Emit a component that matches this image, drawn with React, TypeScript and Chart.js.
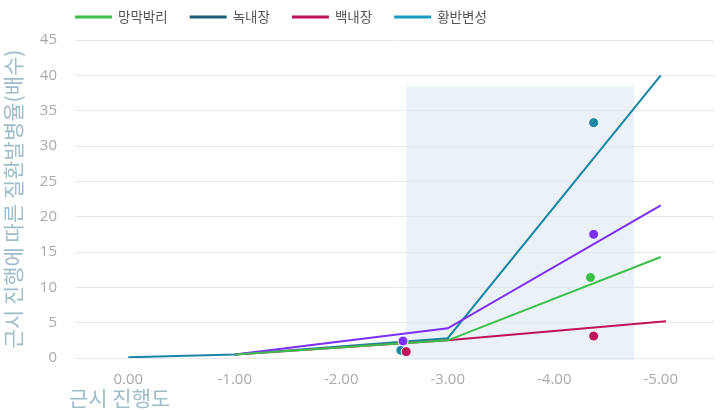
import { useEffect, useRef } from 'react';
import { Chart, registerables } from 'chart.js';

Chart.register(...registerables);

const seriesNames = ['망막박리', '녹내장', '백내장', '황반변성'];
const lineColors = ['#3dbf4b', '#7b2ff7', '#c0135c', '#1a86a5'];
const legendColors = ['#3dbf4b', '#1f5d78', '#c0135c', '#1a9bc0'];

// 추세선 (근시 진행도, 배수)
const detachX = [-1, -3, -5];
const detachY = [0.5, 2.5, 14.3];
const glaucomaX = [-1, -3, -5];
const glaucomaY = [0.5, 4.2, 21.6];
const cataractX = [-1, -3, -5.05];
const cataractY = [0.5, 2.5, 5.2];
const amdX = [0, -1, -3, -5];
const amdY = [0.1, 0.5, 2.8, 40];

// 관측값
const detachPtX = [-2.56, -4.34];
const detachPtY = [1.15, 11.4];
const glaucomaPtX = [-2.58, -4.37];
const glaucomaPtY = [2.4, 17.5];
const cataractPtX = [-2.61, -4.37];
const cataractPtY = [0.9, 3.1];
const amdPtX = [-2.56, -4.37];
const amdPtY = [1.1, 33.3];

const xTicks = [0, -1, -2, -3, -4, -5];
const bandX = [-2.61, -4.75];
const bandY = [0, 38.4];

const xTitle = '근시 진행도';
const yTitle = '근시 진행에 따른 질환발병율(배수)';
const krFont = '"Noto Sans CJK KR", "Noto Sans", sans-serif';
const numFont = '"Open Sans", sans-serif';
const titleColor = '#9dbdca';

const zip = (xs: number[], ys: number[]) => xs.map((x, i) => ({ x, y: ys[i] }));

const bandPlugin = {
  id: 'band',
  beforeDatasetsDraw(chart: any) {
    const { ctx, scales } = chart;
    const x1 = scales.x.getPixelForValue(bandX[0]);
    const x2 = scales.x.getPixelForValue(bandX[1]);
    const y1 = scales.y.getPixelForValue(bandY[1]);
    const y2 = scales.y.getPixelForValue(bandY[0]) + 2;
    ctx.save();
    ctx.fillStyle = 'rgba(222,234,243,0.65)';
    ctx.fillRect(x1, y1, x2 - x1, y2 - y1);
    ctx.restore();
  },
};

// 범례와 x축 제목 (차트 영역 왼쪽 기준)
const legendPlugin = {
  id: 'leftLegend',
  afterDraw(chart: any) {
    const { ctx, chartArea } = chart;
    ctx.save();
    ctx.font = `13.5px ${krFont}`;
    ctx.textBaseline = 'middle';
    let x = chartArea.left;
    const y = 17;
    seriesNames.forEach((name, i) => {
      ctx.fillStyle = legendColors[i];
      ctx.fillRect(x, y - 1.5, 37, 3);
      x += 43;
      ctx.fillStyle = '#555555';
      ctx.fillText(name, x, y);
      x += ctx.measureText(name).width + 22;
    });
    ctx.font = `21px ${krFont}`;
    ctx.fillStyle = titleColor;
    ctx.textBaseline = 'alphabetic';
    ctx.fillText(xTitle, chartArea.left - 6, 406);
    ctx.restore();
  },
};

export default function App() {
  const canvasRef = useRef<HTMLCanvasElement>(null);
  const chartRef = useRef<Chart | null>(null);

  useEffect(() => {
    if (!canvasRef.current) return;
    const ctx = canvasRef.current.getContext('2d');
    if (!ctx) return;
    if (chartRef.current) chartRef.current.destroy();

    const lines = [
      zip(detachX, detachY),
      zip(glaucomaX, glaucomaY),
      zip(cataractX, cataractY),
      zip(amdX, amdY),
    ];
    // 앞쪽 데이터셋이 위에 그려짐
    const points = [
      zip(glaucomaPtX, glaucomaPtY),
      zip(cataractPtX, cataractPtY),
      zip(amdPtX, amdPtY),
      zip(detachPtX, detachPtY),
    ];
    const pointColors = [lineColors[1], lineColors[2], lineColors[3], lineColors[0]];

    chartRef.current = new Chart(ctx, {
      type: 'line',
      data: {
        datasets: [
          ...points.map((data, i) => ({
            type: 'scatter' as const,
            label: 'pt' + i,
            data,
            backgroundColor: pointColors[i],
            borderColor: '#ffffff',
            borderWidth: 1,
            pointRadius: 5,
            order: 1,
          })),
          ...lines.map((data, i) => ({
            type: 'line' as const,
            label: seriesNames[i],
            data,
            borderColor: lineColors[i],
            backgroundColor: legendColors[i],
            borderWidth: 2,
            pointRadius: 0,
            tension: 0,
            fill: false,
            order: 2,
          })),
        ],
      },
      options: {
        responsive: true,
        maintainAspectRatio: false,
        animation: false,
        layout: { padding: { top: 40, right: 4, left: 0, bottom: 0 } },
        plugins: {
          legend: { display: false },
          tooltip: { enabled: false },
        },
        scales: {
          x: {
            type: 'linear',
            min: -5.5,
            max: 0.5,
            reverse: true,
            afterBuildTicks: (axis) => {
              axis.ticks = xTicks.map((value) => ({ value }));
            },
            afterFit: (axis) => {
              axis.height = 52;
            },
            grid: { display: false },
            border: { display: false },
            ticks: {
              color: '#aaaaaa',
              padding: 5,
              font: { size: 15, family: numFont },
              callback: (v) => Number(v).toFixed(2),
            },
          },
          y: {
            min: 0,
            max: 45,
            afterFit: (axis) => {
              axis.width = 75;
            },
            grid: { color: '#e8e8e8', drawTicks: false },
            border: { display: false },
            ticks: {
              stepSize: 5,
              color: '#aaaaaa',
              padding: 18,
              font: { size: 15, family: numFont },
            },
            title: {
              display: true,
              text: yTitle,
              color: titleColor,
              padding: { top: 0, bottom: 0 },
              font: { size: 21, family: krFont },
            },
          },
        },
      },
      plugins: [bandPlugin, legendPlugin],
    });

    return () => {
      if (chartRef.current) {
        chartRef.current.destroy();
        chartRef.current = null;
      }
    };
  }, []);

  return (
    <div style={{ position: 'fixed', left: 0, top: 0, width: 720, height: 410, background: '#fff' }}>
      <canvas ref={canvasRef} />
    </div>
  );
}
